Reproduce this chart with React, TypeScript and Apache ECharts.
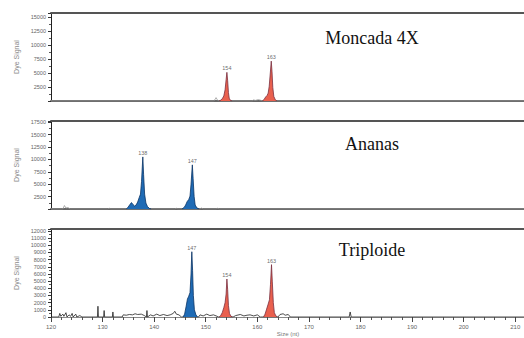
import React, { useEffect, useRef } from "react";
import * as echarts from "echarts";

// ---- data (size in bp, signal in RFU) ----
const panelTitles = ["Moncada 4X", "Ananas", "Triploide"];
const yMax = [15670, 17740, 12270];
const yInterval = [2500, 2500, 1000];
const xMin = 120;
const xMax = 211.7;

const moncada154 = [[152.6,0],[152.9,150],[153.2,400],[153.5,900],[153.75,2000],[153.95,3800],[154.1,5100],[154.25,3600],[154.4,1500],[154.55,500],[154.8,100],[155.1,0]];
const moncada163 = [[161.0,0],[161.3,250],[161.6,700],[161.9,1000],[162.1,1400],[162.3,2600],[162.5,4800],[162.7,7100],[162.85,5200],[163.0,2400],[163.2,800],[163.5,200],[163.8,0]];
const moncadaLabels = ["154", "163"];
const moncadaNoise = [[120,0],[151.5,0],[151.8,250],[152.0,600],[152.2,300],[152.5,0],[159.0,0],[159.3,200],[159.6,100],[160.2,250],[160.6,150],[161.0,0],[211.7,0]];

const ananas138 = [[134.6,0],[134.9,300],[135.3,900],[135.6,1300],[135.9,900],[136.2,600],[136.5,800],[136.8,1400],[137.1,2300],[137.35,3000],[137.55,5500],[137.8,10500],[137.95,7000],[138.15,3000],[138.4,1200],[138.7,500],[139.1,100],[139.4,0]];
const ananas147 = [[145.4,0],[145.8,300],[146.1,800],[146.4,1500],[146.7,1900],[146.95,2600],[147.15,5000],[147.4,8900],[147.55,6200],[147.75,2500],[147.95,800],[148.3,200],[148.7,0]];
const ananasLabels = ["138", "147"];
const ananasNoise = [[120,0],[122.3,0],[122.6,700],[122.9,200],[123.3,300],[123.7,0],[131.0,0],[131.3,150],[131.6,0],[144.0,0],[144.3,150],[144.6,0],[148.9,0],[149.2,200],[149.5,0],[152.0,0],[152.3,150],[152.6,0],[211.7,0]];

const tripl147 = [[145.6,0],[145.9,400],[146.2,1500],[146.45,2500],[146.7,2900],[146.95,3400],[147.15,6000],[147.3,9100],[147.45,6500],[147.6,3000],[147.8,1000],[148.1,300],[148.4,0]];
const tripl154 = [[152.6,0],[152.9,200],[153.2,600],[153.5,1300],[153.75,2000],[153.95,3200],[154.1,5300],[154.25,3800],[154.4,1600],[154.6,500],[154.9,100],[155.2,0]];
const tripl163 = [[161.2,0],[161.5,400],[161.8,1100],[162.1,1800],[162.35,2400],[162.55,4500],[162.75,7300],[162.9,5000],[163.1,2000],[163.3,600],[163.6,150],[163.9,0]];
const triploLabels = ["147", "154", "163"];
const triploNoise = [[120,0],[121.5,0],[121.7,500],[121.9,100],[122.3,400],[122.5,100],[122.9,600],[123.1,0],[123.5,300],[123.8,100],[124.1,500],[124.3,0],[124.8,400],[125.0,0],[125.6,200],[126,0],[129.0,0],[129.1,1500],[129.2,0],[130.2,0],[130.3,900],[130.4,0],[131.9,0],[132.0,700],[132.1,0],[133.8,0],[134.0,300],[134.6,250],[135.2,350],[135.8,300],[136.3,450],[136.8,350],[137.5,400],[138.1,200],[138.5,0],[138.6,900],[138.7,0],[139.3,300],[139.8,150],[140.5,400],[141.1,200],[141.8,350],[142.5,200],[143.1,300],[143.7,500],[144.0,800],[144.3,400],[144.8,300],[145.3,0],[148.6,0],[148.9,300],[149.5,150],[150.2,400],[150.8,200],[151.5,300],[152.2,100],[152.5,0],[155.3,0],[155.8,200],[156.7,350],[157.4,150],[158.0,250],[158.6,300],[159.3,150],[160.0,300],[160.6,0],[164.0,0],[164.4,350],[165.0,450],[165.4,250],[166.0,350],[166.4,0],[177.8,0],[178.0,700],[178.2,0],[211.7,0]];

const BLUE = "#1f6bb5";
const BLUE_LINE = "#0b3566";
const RED = "#e9604e";
const RED_LINE = "#7a3040";

const gridTops = [13, 121, 229];
const gridHeight = 88;

function peakSeries(data: number[][], idx: number, fill: string, line: string) {
  return {
    type: "line",
    xAxisIndex: idx * 2,
    yAxisIndex: idx,
    data,
    symbol: "none",
    smooth: false,
    lineStyle: { color: line, width: 0.8 },
    areaStyle: { color: fill, opacity: 1 },
    z: 3,
  };
}

function noiseSeries(data: number[][], idx: number, color: string) {
  return {
    type: "line",
    xAxisIndex: idx * 2,
    yAxisIndex: idx,
    data,
    symbol: "none",
    lineStyle: { color, width: 0.8 },
    z: 2,
  };
}

function labelSeries(peaks: number[][][], labels: string[], idx: number) {
  const pts = peaks.map((p, i) => {
    let best = p[0];
    p.forEach((q) => {
      if (q[1] > best[1]) best = q;
    });
    return { value: [best[0], best[1]], name: labels[i] };
  });
  return {
    type: "scatter",
    xAxisIndex: idx * 2,
    yAxisIndex: idx,
    data: pts,
    symbolSize: 0,
    label: {
      show: true,
      position: "top",
      distance: 1,
      formatter: (p: any) => p.name,
      fontSize: 5.5,
      color: "#444",
      fontFamily: "Liberation Sans",
    },
    z: 4,
  };
}

export default function App() {
  const ref = useRef<HTMLDivElement>(null);
  useEffect(() => {
    if (!ref.current) return;
    const chart = echarts.init(ref.current, null, { renderer: "svg" });
    const grids = gridTops.map((t) => ({ left: 51, right: 0, top: t, height: gridHeight }));
    const xAxes: any[] = [];
    gridTops.forEach((_, i) => {
      const last = i === 2;
      xAxes.push({
        type: "value",
        gridIndex: i,
        min: xMin,
        max: xMax,
        interval: 10,
        position: "bottom",
        splitLine: { show: false },
        axisLine: { show: true, onZero: false, lineStyle: { color: last ? "#888" : "#666", width: last ? 1 : 2 } },
        axisTick: { show: last, length: 5, lineStyle: { color: "#444" } },
        minorTick: { show: last, splitNumber: 5, length: 3, lineStyle: { color: "#555" } },
        axisLabel: {
          show: last,
          fontSize: 6,
          color: "#666",
          margin: 7,
          fontFamily: "Liberation Sans",
          showMaxLabel: false,
          formatter: (v: number) => String(v),
        },
      });
      xAxes.push({
        type: "value",
        gridIndex: i,
        min: xMin,
        max: xMax,
        position: "top",
        splitLine: { show: false },
        axisLine: { show: true, onZero: false, lineStyle: { color: "#555", width: 2 } },
        axisTick: { show: false },
        axisLabel: { show: false },
      });
    });
    const yAxes = gridTops.map((_, i) => ({
      type: "value",
      gridIndex: i,
      min: 0,
      max: yMax[i],
      interval: yInterval[i],
      name: "Dye Signal",
      nameLocation: "middle",
      nameGap: 28,
      nameTextStyle: { fontSize: 7, color: "#888", fontFamily: "Liberation Sans" },
      splitLine: { show: false },
      axisLine: { show: true, lineStyle: { color: "#222", width: 1 } },
      axisTick: { show: true, length: 3, lineStyle: { color: "#333" } },
      minorTick: { show: true, splitNumber: 2, length: 2, lineStyle: { color: "#555" } },
      axisLabel: {
        fontSize: 5.5,
        color: "#666",
        margin: 5,
        fontFamily: "Liberation Sans",
        showMaxLabel: false,
        showMinLabel: true,
        hideOverlap: false,
        formatter: (v: number) => (v === 0 && i < 2 ? "" : v % yInterval[i] === 0 ? String(v) : ""),
      },
    }));
    const series: any[] = [
      noiseSeries(moncadaNoise, 0, "#999"),
      peakSeries(moncada154, 0, RED, RED_LINE),
      peakSeries(moncada163, 0, RED, RED_LINE),
      labelSeries([moncada154, moncada163], moncadaLabels, 0),
      noiseSeries(ananasNoise, 1, "#999"),
      peakSeries(ananas138, 1, BLUE, BLUE_LINE),
      peakSeries(ananas147, 1, BLUE, BLUE_LINE),
      labelSeries([ananas138, ananas147], ananasLabels, 1),
      noiseSeries(triploNoise, 2, "#222"),
      peakSeries(tripl147, 2, BLUE, BLUE_LINE),
      peakSeries(tripl154, 2, RED, RED_LINE),
      peakSeries(tripl163, 2, RED, RED_LINE),
      labelSeries([tripl147, tripl154, tripl163], triploLabels, 2),
    ];
    const titleY = [38, 144, 250];
    chart.setOption({
      animation: false,
      backgroundColor: "#ffffff",
      grid: grids,
      xAxis: xAxes,
      yAxis: yAxes,
      series,
      graphic: [
        ...panelTitles.map((t, i) => ({
          type: "text",
          x: 372,
          y: titleY[i],
          style: {
            text: t,
            fontSize: 18,
            fontFamily: "Liberation Serif",
            fill: "#111",
            textAlign: "center",
            textVerticalAlign: "middle",
          },
          z: 10,
        })),
        {
          type: "text",
          x: 288,
          y: 334,
          style: {
            text: "Size (nt)",
            fontSize: 6,
            fontFamily: "Liberation Sans",
            fill: "#777",
            textAlign: "center",
            textVerticalAlign: "middle",
          },
        },
      ],
    });
    return () => chart.dispose();
  }, []);
  return <div ref={ref} style={{ position: "fixed", left: 0, top: 0, width: 524, height: 338 }} />;
}
